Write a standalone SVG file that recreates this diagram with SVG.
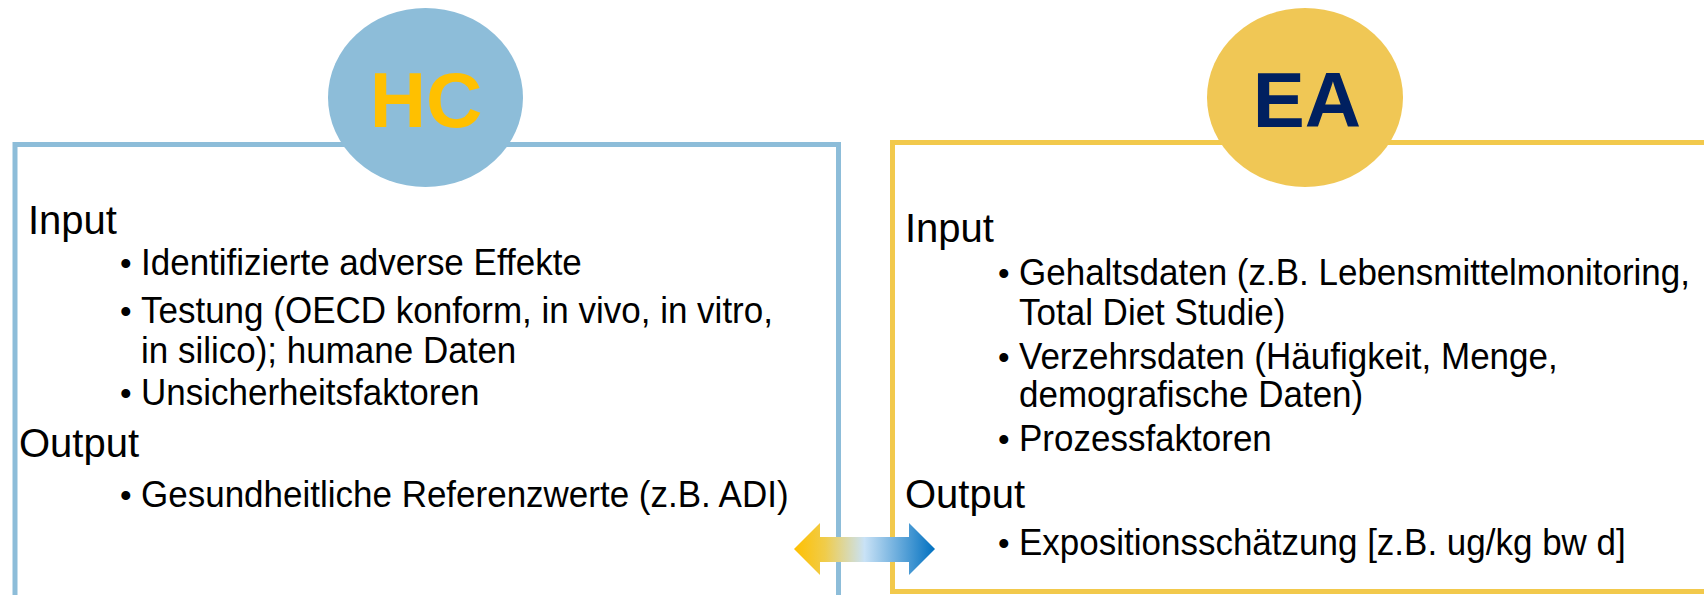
<svg xmlns="http://www.w3.org/2000/svg" width="1704" height="595" viewBox="0 0 1704 595">
<defs>
<linearGradient id="arrowGrad" x1="794" y1="0" x2="935" y2="0" gradientUnits="userSpaceOnUse">
<stop offset="0" stop-color="#FFC000"/>
<stop offset="0.22" stop-color="#F0CC4A"/>
<stop offset="0.5" stop-color="#C9E2F6"/>
<stop offset="1" stop-color="#0070C0"/>
</linearGradient>
<style>
.head{font-family:"Liberation Sans",Arial,sans-serif;font-size:40px;fill:#000}
.item{font-family:"Liberation Sans",Arial,sans-serif;font-size:37px;fill:#000}
.dot{font-family:"Liberation Sans",Arial,sans-serif;font-size:33px;fill:#000}
.badge{font-family:"Liberation Sans",Arial,sans-serif;font-size:78px;font-weight:bold;text-anchor:middle}
</style>
</defs>
<rect width="1704" height="595" fill="#fff"/>
<g id="hc-node">
<rect x="15" y="144.5" width="823.5" height="480" fill="none" stroke="#8DBDD9" stroke-width="5"/>
<ellipse cx="425.5" cy="97.5" rx="97.5" ry="89.5" fill="#8DBDD9"/>
<text class="badge" x="426" y="127" fill="#FFC000">HC</text>
<text class="head" x="28" y="234">Input</text>
<text class="dot" x="120" y="275">•</text>
<text class="dot" x="120" y="323">•</text>
<text class="dot" x="120" y="405">•</text>
<text class="dot" x="120" y="507">•</text>
<g transform="translate(141 0) scale(0.946 1)">
<text class="item" x="0" y="275">Identifizierte adverse Effekte</text>
<text class="item" x="0" y="323">Testung (OECD konform, in vivo, in vitro,</text>
<text class="item" x="0" y="363">in silico); humane Daten</text>
<text class="item" x="0" y="405">Unsicherheitsfaktoren</text>
<text class="item" x="0" y="507">Gesundheitliche Referenzwerte (z.B. ADI)</text>
</g>
<text class="head" x="19" y="457">Output</text>
</g>
<g id="ea-node">
<rect x="892.5" y="142.5" width="880" height="449" fill="none" stroke="#F2C94C" stroke-width="5"/>
<ellipse cx="1305" cy="97.5" rx="98" ry="89.5" fill="#F0C755"/>
<text class="badge" x="1307" y="127" fill="#002060">EA</text>
<text class="head" x="905" y="242">Input</text>
<text class="dot" x="998" y="285">•</text>
<text class="dot" x="998" y="369">•</text>
<text class="dot" x="998" y="451">•</text>
<text class="dot" x="998" y="555">•</text>
<g transform="translate(1019 0) scale(0.946 1)">
<text class="item" x="0" y="285">Gehaltsdaten (z.B. Lebensmittelmonitoring,</text>
<text class="item" x="0" y="325">Total Diet Studie)</text>
<text class="item" x="0" y="369">Verzehrsdaten (Häufigkeit, Menge,</text>
<text class="item" x="0" y="407">demografische Daten)</text>
<text class="item" x="0" y="451">Prozessfaktoren</text>
<text class="item" x="0" y="555">Expositionsschätzung [z.B. ug/kg bw d]</text>
</g>
<text class="head" x="905" y="508">Output</text>
</g>
<g id="connectors">
<polygon points="794,549 820,523 820,537 909,537 909,523 935,549 909,575 909,562 820,562 820,575" fill="url(#arrowGrad)"/>
</g>
</svg>
